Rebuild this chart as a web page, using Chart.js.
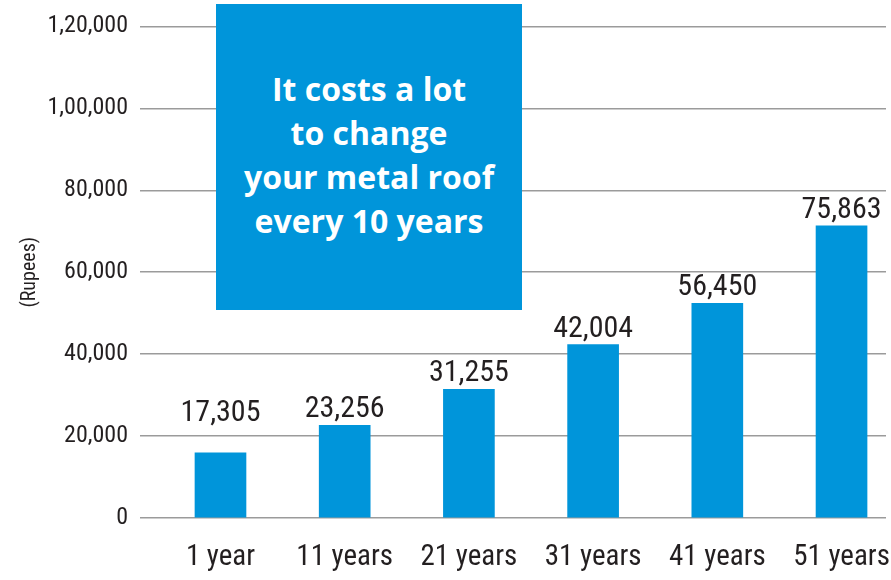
<!DOCTYPE html>
<html>
<head>
<meta charset="utf-8">
<script src="https://cdn.jsdelivr.net/npm/chart.js@4/dist/chart.umd.min.js"></script>
<style>
  html, body { margin: 0; padding: 0; background: #ffffff; }
  #wrap { position: relative; width: 891px; height: 580px; overflow: hidden; }
  #chart { position: absolute; left: 0; top: 0; }
  #note {
    position: absolute; left: 216px; top: 4px; width: 306px; height: 306px;
    background: #0095da; color: #ffffff; text-align: center;
    font-family: "Open Sans", "Noto Sans", sans-serif; font-weight: 700;
    font-size: 32px; line-height: 44px; box-sizing: border-box; padding-top: 63px;
  }
</style>
</head>
<body>
<div id="wrap">
  <canvas id="chart" width="891" height="580"></canvas>
  <div id="note">It costs a lot<br>to change<br>your metal roof<br>every 10 years</div>
</div>
<script>
// ---- data ----
const categories = ["1 year", "11 years", "21 years", "31 years", "41 years", "51 years"];
const barValues = [15900, 22640, 31400, 42350, 52400, 71320];       // drawn bar heights (Rupees)
const valueLabels = ["17,305", "23,256", "31,255", "42,004", "56,450", "75,863"]; // printed labels
const yTickLabels = { 0: "0", 20000: "20,000", 40000: "40,000", 60000: "60,000", 80000: "80,000", 100000: "1,00,000", 120000: "1,20,000" };
const yTitle = "(Rupees)";

const FAMILY = '"Roboto Condensed", Roboto, "DejaVu Sans", sans-serif';
const STRETCH = 'condensed';
const BLUE = '#0095da';
const TEXT = '#231f20';

// value labels above bars; a label that would sit on a grid line is lifted above it
const valueLabelPlugin = {
  id: 'valueLabels',
  afterDatasetsDraw(chart) {
    const ctx = chart.ctx;
    const meta = chart.getDatasetMeta(0);
    const yScale = chart.scales.y;
    const gridYs = yScale.ticks.map(t => yScale.getPixelForValue(t.value));
    const cap = 21;
    ctx.save();
    ctx.fillStyle = TEXT;
    ctx.font = STRETCH + ' 30px ' + FAMILY;
    ctx.textAlign = 'center';
    ctx.textBaseline = 'alphabetic';
    meta.data.forEach((bar, i) => {
      let base = bar.y - 8;
      gridYs.forEach(g => {
        if (g > base - cap - 1 && g < base + 1) base = g - 15;
      });
      ctx.fillText(valueLabels[i], bar.x, base);
    });
    ctx.restore();
  }
};

new Chart(document.getElementById('chart'), {
  type: 'bar',
  data: {
    datasets: [{
      data: categories.map((c, i) => ({ x: i, y: barValues[i] })),
      backgroundColor: BLUE,
      borderWidth: 0,
      barThickness: 51
    }]
  },
  options: {
    responsive: false,
    animation: false,
    layout: { padding: { top: 25, right: 5, left: 0, bottom: 0 } },
    plugins: { legend: { display: false }, tooltip: { enabled: false } },
    scales: {
      x: {
        type: 'linear',
        offset: false,
        min: -0.648,
        max: 5.358,
        grid: { display: false },
        border: { display: false },
        afterBuildTicks(scale) { scale.ticks = categories.map((c, i) => ({ value: i })); },
        afterFit(scale) { scale.height = 62; scale.paddingLeft = 0; scale.paddingRight = 0; },
        ticks: {
          autoSkip: false,
          maxRotation: 0,
          padding: 14,
          color: TEXT,
          font: { family: FAMILY, size: 29, weight: STRETCH },
          callback: (v) => categories[v]
        }
      },
      y: {
        min: 0,
        max: 120000,
        afterFit(scale) { scale.width = 140; },
        grid: { color: '#9b9b9b', lineWidth: 1.5, drawTicks: false },
        border: { display: false },
        ticks: {
          stepSize: 20000,
          padding: 12,
          color: TEXT,
          font: { family: FAMILY, size: 24, weight: STRETCH },
          callback: (v) => yTickLabels[v]
        },
        title: {
          display: true,
          text: yTitle,
          color: TEXT,
          font: { family: FAMILY, size: 20, weight: STRETCH },
          padding: { top: 18, bottom: 0 }
        }
      }
    }
  },
  plugins: [valueLabelPlugin]
});
</script>
</body>
</html>
